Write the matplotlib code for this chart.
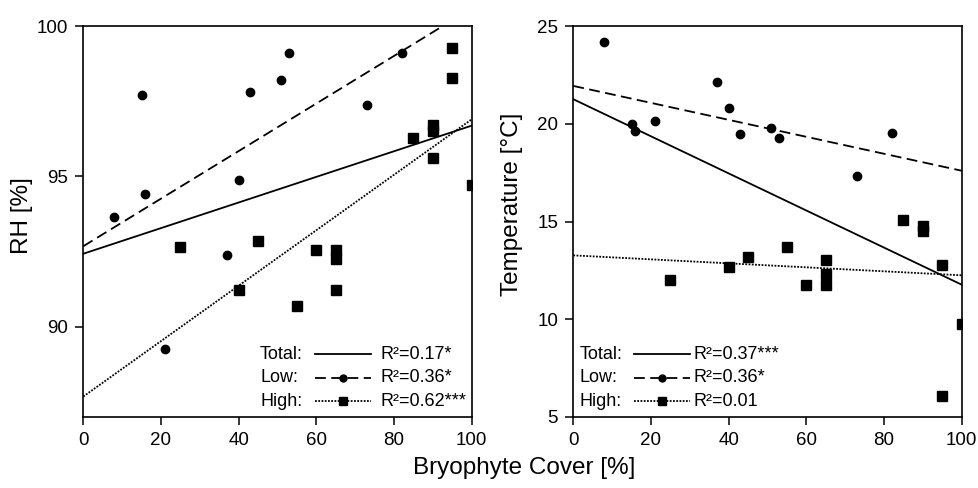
import numpy as np
import matplotlib
matplotlib.use('Agg')
import matplotlib.pyplot as plt
from matplotlib.lines import Line2D

plt.rcParams['font.family'] = ['Liberation Sans', 'DejaVu Sans']

# Low bryophyte cover plots (circles)
low_cover = [8, 15, 16, 21, 37, 40, 43, 51, 53, 73, 82]
low_rh = [93.65, 97.7, 94.4, 89.25, 92.4, 94.88, 97.8, 98.2, 99.1, 97.36, 99.1]
low_temp = [24.17, 19.97, 19.62, 20.12, 22.15, 20.82, 19.49, 19.8, 19.3, 17.35, 19.54]

# High bryophyte cover plots (squares)
high_cover_rh = [25, 40, 45, 55, 60, 65, 65, 65, 85, 90, 90, 90, 95, 95, 100]
high_rh = [92.64, 91.21, 92.84, 90.7, 92.57, 92.57, 92.25, 91.24, 96.27, 96.5, 96.7, 95.6, 99.28, 98.26, 94.72]
high_cover_temp = [25, 40, 45, 55, 60, 65, 65, 65, 85, 90, 90, 95, 95, 100]
high_temp = [11.99, 12.68, 13.19, 13.7, 11.74, 13.02, 12.34, 11.74, 15.08, 14.75, 14.5, 12.76, 6.07, 9.78]

# Regression lines: intercept, slope (Total, Low, High)
groups = ['Total:', 'Low:', 'High:']
rh_intercept = [92.43, 92.68, 87.68]
rh_slope = [0.0426, 0.0791, 0.0922]
rh_r2 = ['R²=0.17*', 'R²=0.36*', 'R²=0.62***']
temp_intercept = [21.26, 21.94, 13.27]
temp_slope = [-0.0949, -0.0434, -0.0102]
temp_r2 = ['R²=0.37***', 'R²=0.36*', 'R²=0.01']

line_styles = [dict(ls='-'), dict(ls=(0, (6, 3))), dict(ls=(0, (1, 0.8)))]
legend_markers = [None, 'o', 's']
legend_msize = [0, 5, 6]


def draw_panel(ax, cl, yl, ch, yh, intercepts, slopes, r2_labels, ylim, yticks, ylabel,
               label_y, leg_x):
    xs = np.array([0, 100])
    for b, m, st in zip(intercepts, slopes, line_styles):
        ax.plot(xs, b + m * xs, color='black', lw=1.3, **st, zorder=2)
    ax.plot(cl, yl, 'o', color='black', ms=6, ls='none', zorder=3)
    ax.plot(ch, yh, 's', color='black', ms=7, ls='none', zorder=3)
    ax.set_xlim(0, 100)
    ax.set_ylim(*ylim)
    ax.set_xticks(np.arange(0, 101, 20))
    ax.set_yticks(yticks)
    ax.tick_params(direction='out', length=6, width=1.1, labelsize=13.5, pad=5)
    for sp in ax.spines.values():
        sp.set_linewidth(1.2)
    ax.set_ylabel(ylabel, fontsize=17.5)
    ax.yaxis.set_label_coords(-0.13, label_y)

    # legend: group name, line sample, R² text
    rows = [0.16, 0.10, 0.04]
    tx, lx0, lx1, rx = leg_x
    for y, g, st, mk, ms, r2 in zip(rows, groups, line_styles, legend_markers,
                                    legend_msize, r2_labels):
        ax.text(tx, y, g, transform=ax.transAxes, fontsize=13, va='center', ha='left')
        ln = Line2D([lx0, lx1], [y, y], transform=ax.transAxes, color='black', lw=1.3, **st)
        ax.add_line(ln)
        if mk:
            ax.plot([(lx0 + lx1) / 2], [y], marker=mk, ms=ms, color='black',
                    transform=ax.transAxes, clip_on=False)
        ax.text(rx, y, r2, transform=ax.transAxes, fontsize=13, va='center', ha='left')


fig = plt.figure(figsize=(9.79, 4.88), dpi=100)
ax1 = fig.add_axes([0.0851, 0.1455, 0.3967, 0.801])
ax2 = fig.add_axes([0.5856, 0.1455, 0.3967, 0.801])

draw_panel(ax1, low_cover, low_rh, high_cover_rh, high_rh, rh_intercept, rh_slope, rh_r2,
           (87, 100), [90, 95, 100], 'RH [%]', 0.515, (0.455, 0.596, 0.742, 0.766))
draw_panel(ax2, low_cover, low_temp, high_cover_temp, high_temp, temp_intercept, temp_slope,
           temp_r2, (5, 25), [5, 10, 15, 20, 25], 'Temperature [°C]', 0.543,
           (0.015, 0.156, 0.30, 0.309))

fig.text(0.535, 0.041, 'Bryophyte Cover [%]', ha='center', va='center', fontsize=17.5)

fig.savefig('out.png', dpi=100)
